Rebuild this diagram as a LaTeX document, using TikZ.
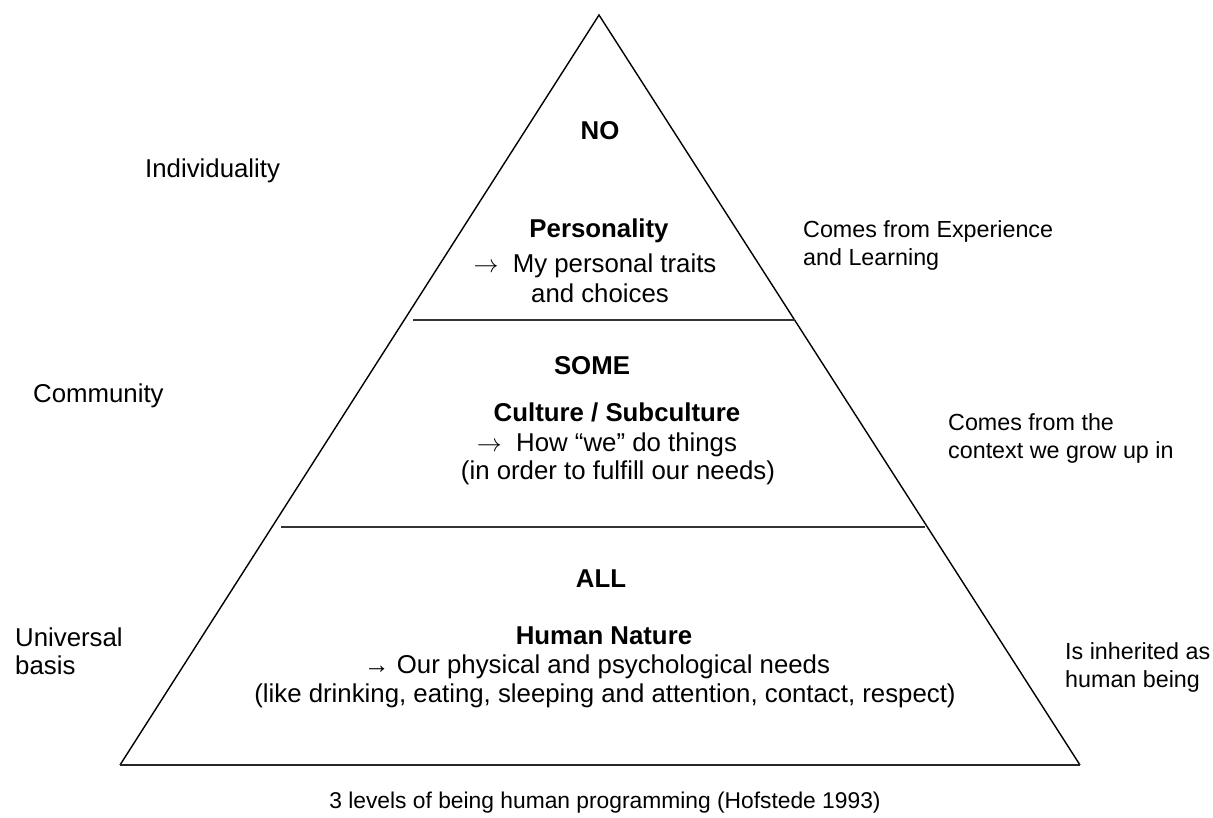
\documentclass[tikz,border=0pt]{standalone}
\usepackage{fontspec}
\setmainfont{Liberation Sans}
\usetikzlibrary{positioning}

\begin{document}
\begin{tikzpicture}[x=1pt,y=-1pt]
\tikzset{txt/.style={font=\fontsize{25.8}{30}\selectfont,inner sep=0pt,anchor=base},
  hd/.style={txt,font=\fontsize{25.8}{30}\selectfont\bfseries},
  side/.style={txt,anchor=base west},
  note/.style={side,font=\fontsize{23.3}{28}\selectfont},
  sep/.style={line width=2pt,draw=black!80}}
\useasboundingbox (0,0) rectangle (1213,817);
% the pyramid
\coordinate (apex) at (599,15);
\coordinate (bl) at (120,765);
\coordinate (br) at (1080,765);
\draw[line width=1.4pt] (bl) -- (apex) -- (br);
\draw[line width=2.6pt,draw=black!85] (bl) -- (br);
\coordinate (s1l) at (413,320);
\coordinate (s1r) at (795,320);
\coordinate (s2l) at (281,527);
\coordinate (s2r) at (925,527);
\draw[sep] (s1l) -- (s1r);
\draw[sep] (s2l) -- (s2r);
% top level
\node[hd] (no) at (600,139) {NO};
\node[hd] (pers) at (599,237) {Personality};
\node[txt] (pers1) at (595,272) {$\rightarrow$\; My personal traits};
\node[txt] (pers2) at (600,302) {and choices};
% middle level
\node[hd] (some) at (592,374) {SOME};
\node[hd] (cult) at (617,421) {Culture / Subculture};
\node[txt] (cult1) at (607,451) {$\rightarrow$\; How “we” do things};
\node[txt] (cult2) at (618,479) {(in order to fulfill our needs)};
% bottom level
\node[hd] (all) at (601,587) {ALL};
\node[hd] (hum) at (604,644) {Human Nature};
\node[txt] (hum1) at (597,673) {→ Our physical and psychological needs};
\node[txt] (hum2) at (605,702) {(like drinking, eating, sleeping and attention, contact, respect)};
% left
\node[side] (indiv) at (145,177) {Individuality};
\node[side] (comm) at (33,402) {Community};
\node[side] (univ) at (15,646) {Universal};
\node[side] (univ2) at (15,674) {basis};
% right
\node[note] (exp) at (803,237) {Comes from Experience};
\node[note] (exp2) at (803,265) {and Learning};
\node[note] (ctx) at (948,430) {Comes from the};
\node[note] (ctx2) at (948,458) {context we grow up in};
\node[note] (inh) at (1065,659) {Is inherited as};
\node[note] (inh2) at (1065,687) {human being};
% caption
\node[txt,font=\fontsize{22.8}{28}\selectfont] (cap) at (605,808) {3 levels of being human programming (Hofstede 1993)};
\end{tikzpicture}
\end{document}
